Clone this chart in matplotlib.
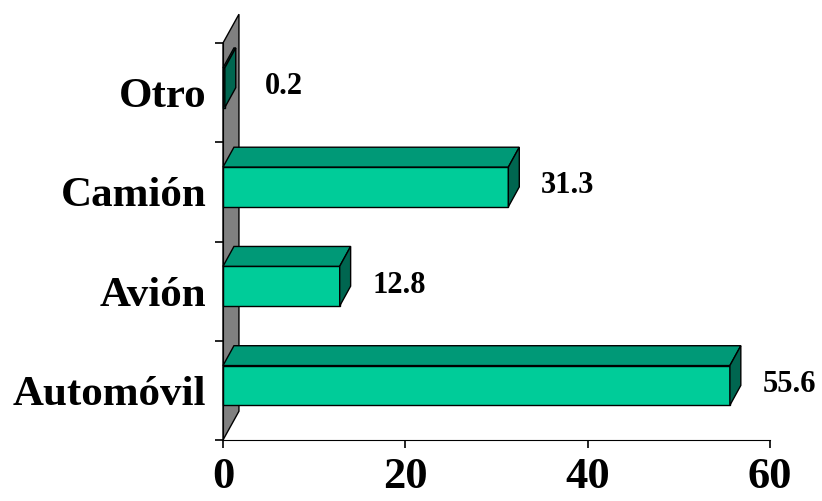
import matplotlib.pyplot as plt
from matplotlib.patches import Polygon

# data (bottom to top)
categories = ['Automóvil', 'Avión', 'Camión', 'Otro']
values = [55.6, 12.8, 31.3, 0.2]
x_ticks = [0, 20, 40, 60]

front_col = '#00cc99'
top_col = '#009977'
side_col = '#006650'
wall_col = '#808080'

plt.rcParams['font.family'] = ['Liberation Serif', 'DejaVu Serif']
plt.rcParams['font.weight'] = 'bold'

fig = plt.figure(figsize=(8.22, 5.01), dpi=100)
ax = fig.add_axes([223 / 822, 1 - 440 / 501, (770 - 223) / 822, (440 - 43) / 501])
ax.set_xlim(0, 60)
ax.set_ylim(0, len(categories))

# depth offsets (data units) for the fake 3d look
dx, dy = 1.2, 0.2
wall_dx, wall_dy = 1.75, 0.29

# back wall
wall = Polygon([(0, 0), (0, len(categories)), (wall_dx, len(categories) + wall_dy), (wall_dx, wall_dy)],
               closed=True, facecolor=wall_col, edgecolor='black', lw=1, clip_on=False, zorder=1)
ax.add_patch(wall)

bot_off, h = 0.35, 0.40
for i, v in enumerate(values):
    b = i + bot_off
    t = b + h
    ax.barh(b + h / 2, v, height=h, left=0, color=front_col, edgecolor='black', lw=1, zorder=3, clip_on=False)
    ax.add_patch(Polygon([(0, t), (v, t), (v + dx, t + dy), (dx, t + dy)], closed=True,
                         facecolor=top_col, edgecolor='black', lw=1, zorder=3, clip_on=False))
    ax.add_patch(Polygon([(v, b), (v, t), (v + dx, t + dy), (v + dx, b + dy)], closed=True,
                         facecolor=side_col, edgecolor='black', lw=1, zorder=3, clip_on=False))
    ax.text(v + 6.5, b + h / 2 + 0.01, f'{v:.1f}', ha='center', va='center',
            fontsize=22, fontweight='bold')

for s in ['top', 'right']:
    ax.spines[s].set_visible(False)
ax.spines['left'].set_bounds(0, len(categories))
ax.spines['left'].set_zorder(2)

ax.set_xticks(x_ticks)
ax.set_xticklabels([str(x) for x in x_ticks], fontsize=32, fontweight='bold')
ax.tick_params(axis='x', length=6, width=1.2, pad=6.5, direction='out')

ax.set_yticks(range(len(categories) + 1))
ax.set_yticklabels([])
ax.tick_params(axis='y', which='major', length=6, width=1.2, direction='out')
ax.set_yticks([i + 0.5 for i in range(len(categories))], minor=True)
ax.set_yticklabels(categories, minor=True, fontsize=31, fontweight='bold')
ax.tick_params(axis='y', which='minor', length=0, pad=12)

fig.savefig('out.png', dpi=100)
